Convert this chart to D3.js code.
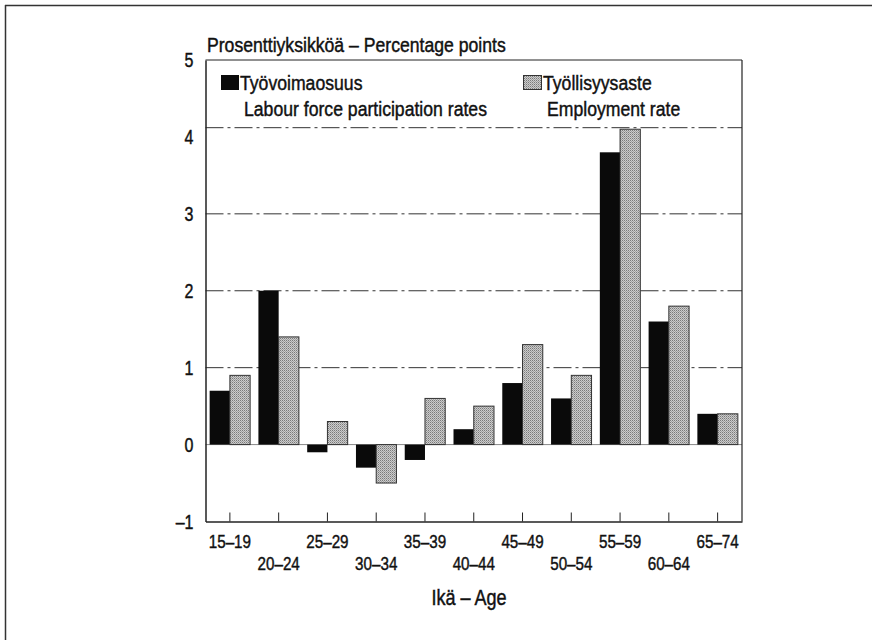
<!DOCTYPE html>
<html><head><meta charset="utf-8">
<script src="https://cdn.jsdelivr.net/npm/d3@7"></script>
<style>body{margin:0;background:#fff}svg{display:block}text{font-family:"Liberation Sans",Arial,sans-serif;fill:#111;stroke:#111;stroke-width:0.45px}</style>
</head><body><svg id="c" width="872" height="640"></svg>
<script>
const categories = ["15–19","20–24","25–29","30–34","35–39","40–44","45–49","50–54","55–59","60–64","65–74"];
const participation = [0.7, 2.0, -0.1, -0.3, -0.2, 0.2, 0.8, 0.6, 3.8, 1.6, 0.4];
const employment = [0.9, 1.4, 0.3, -0.5, 0.6, 0.5, 1.3, 0.9, 4.1, 1.8, 0.4];
const yTicks = [-1, 0, 1, 2, 3, 4, 5];
const gridValues = [1, 2, 3];
const seriesNames = [["Työvoimaosuus","Labour force participation rates"],["Työllisyysaste","Employment rate"]];
const yTitle = "Prosenttiyksikköä – Percentage points";
const xTitle = "Ikä – Age";

const svg = d3.select("#c");
const L = 205.5, R = 742, T = 60, B = 521.5;
const y = d3.scaleLinear().domain([-1, 5]).range([B, T]);
const x = d3.scaleBand().domain(categories).range([L, R]).paddingInner(0.17).paddingOuter(0.085);
const xs = d3.scaleBand().domain([0,1]).range([0, x.bandwidth()]);

// condensed text helper
function ctext(parent, tx, ty, str, size, sx, anchor){
  return parent.append("text")
    .attr("transform", `translate(${tx},${ty}) scale(${sx},1)`)
    .attr("font-size", size).attr("text-anchor", anchor || "start").text(str);
}

const defs = svg.append("defs");
const pat = defs.append("pattern").attr("id","dots").attr("width",2).attr("height",2).attr("patternUnits","userSpaceOnUse");
pat.append("rect").attr("width",2).attr("height",2).attr("fill","#cccccc");
pat.append("rect").attr("width",1).attr("height",1).attr("fill","#7a7a7a");
pat.append("rect").attr("x",1).attr("y",1).attr("width",1).attr("height",1).attr("fill","#a0a0a0");

// outer frame
svg.append("line").attr("x1",5).attr("x2",872).attr("y1",5.5).attr("y2",5.5).attr("stroke","#333").attr("stroke-width",1.5);
svg.append("line").attr("x1",5.5).attr("x2",5.5).attr("y1",5).attr("y2",640).attr("stroke","#333").attr("stroke-width",1.5);

// gridlines
svg.append("g").selectAll("line").data(gridValues).join("line")
  .attr("x1",L).attr("x2",R).attr("y1",d=>y(d)).attr("y2",d=>y(d))
  .attr("stroke","#333").attr("stroke-width",1).attr("stroke-dasharray","18,4,3,4");
// legend box bottom line
svg.append("line").attr("x1",L).attr("x2",R).attr("y1",y(4.12)).attr("y2",y(4.12))
  .attr("stroke","#333").attr("stroke-width",1).attr("stroke-dasharray","18,4,3,4");
// zero line
svg.append("line").attr("x1",L).attr("x2",R).attr("y1",y(0)).attr("y2",y(0)).attr("stroke","#888").attr("stroke-width",1);

// bars
const g = svg.append("g");
categories.forEach((c,i)=>{
  [participation[i], employment[i]].forEach((v,j)=>{
    g.append("rect")
      .attr("x", x(c)+xs(j)).attr("width", xs.bandwidth())
      .attr("y", y(Math.max(0,v))).attr("height", Math.abs(y(v)-y(0)))
      .attr("fill", j===0 ? "#0a0a0a" : "url(#dots)")
      .attr("stroke", j===0 ? "none" : "#333").attr("stroke-width", j===0 ? 0 : 1);
  });
});

// frame
svg.append("path").attr("d",`M${R},${T}V${B}`).attr("stroke","#222").attr("stroke-width",1.2).attr("fill","none");
svg.append("path").attr("d",`M${L},${T}H${R}`).attr("stroke","#222").attr("stroke-width",1).attr("fill","none");

// axes
const yAxis = d3.axisLeft(y).tickValues(yTicks).tickSize(0).tickFormat("");
const ya = svg.append("g").attr("transform",`translate(${L},0)`).call(yAxis);
ya.select(".domain").attr("stroke","#222").attr("stroke-width",1.5);
yTicks.forEach(t=>{
  ctext(svg, L-12, y(t)+7, t<0 ? "–"+Math.abs(t) : String(t), 20, 0.8, "end");
});

const xAxis = d3.axisBottom(x).tickSizeInner(-9).tickSizeOuter(0).tickFormat("");
const xa = svg.append("g").attr("transform",`translate(0,${B})`).call(xAxis);
xa.select(".domain").attr("stroke","#222").attr("stroke-width",1.5);
xa.selectAll(".tick line").attr("stroke","#222").attr("stroke-width",1);
categories.forEach((c,i)=>{
  ctext(svg, x(c)+x.bandwidth()/2, i%2===0 ? 548 : 570, c, 19, 0.8, "middle");
});

// titles
ctext(svg, 207, 52, yTitle, 21, 0.84);
ctext(svg, 469, 605, xTitle, 22, 0.82, "middle");

// legend
const lg = svg.append("g");
lg.append("rect").attr("x",221).attr("y",75).attr("width",18).attr("height",15).attr("fill","#0a0a0a");
ctext(lg, 240, 90, seriesNames[0][0], 21, 0.84);
ctext(lg, 244, 116, seriesNames[0][1], 21, 0.84);
lg.append("rect").attr("x",523.5).attr("y",75.5).attr("width",18).attr("height",14).attr("fill","url(#dots)").attr("stroke","#333");
ctext(lg, 543, 90, seriesNames[1][0], 21, 0.84);
ctext(lg, 547, 116, seriesNames[1][1], 21, 0.84);
</script></body></html>
